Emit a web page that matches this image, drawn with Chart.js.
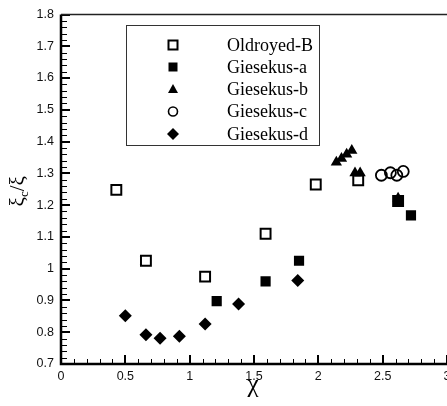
<!DOCTYPE html>
<html>
<head>
<meta charset="utf-8">
<script src="https://cdn.jsdelivr.net/npm/chart.js@4/dist/chart.umd.min.js"></script>
<style>
  html, body { margin: 0; padding: 0; background: #fff; overflow: hidden; }
  #wrap { width: 456px; height: 406px; }
</style>
</head>
<body>
<div id="wrap"><canvas id="chart"></canvas></div>
<script>
// axis ticks
const xTicks = [0, 0.5, 1, 1.5, 2, 2.5, 3];
const yTicks = [0.7, 0.8, 0.9, 1, 1.1, 1.2, 1.3, 1.4, 1.5, 1.6, 1.7, 1.8];

// series: chi vs xi_c / xi
const seriesNames = ['Oldroyed-B', 'Giesekus-a', 'Giesekus-b', 'Giesekus-c', 'Giesekus-d'];

const oldroydX = [0.43, 0.66, 1.12, 1.59, 1.98, 2.31, 2.62];
const oldroydY = [1.248, 1.025, 0.975, 1.11, 1.265, 1.278, 1.213];

const giesekusAX = [1.21, 1.59, 1.85, 2.62, 2.72];
const giesekusAY = [0.898, 0.96, 1.025, 1.213, 1.168];

const giesekusBX = [2.14, 2.18, 2.22, 2.26, 2.285, 2.325, 2.62];
const giesekusBY = [1.335, 1.347, 1.36, 1.372, 1.301, 1.301, 1.222];

const giesekusCX = [2.49, 2.56, 2.61, 2.66];
const giesekusCY = [1.294, 1.302, 1.294, 1.306];

const giesekusDX = [0.50, 0.66, 0.77, 0.92, 1.12, 1.38, 1.84];
const giesekusDY = [0.852, 0.792, 0.781, 0.787, 0.826, 0.889, 0.963];

function pairs(xs, ys) {
    return xs.map((v, i) => ({x: v, y: ys[i]}));
}

const fmt = v => String(+v.toFixed(2));

// legend marker, same shapes as the dataset point styles
function marker(ctx, style, x, y, filled) {
    ctx.beginPath();
    if (style === 'rect') {
        ctx.rect(x - 4.5, y - 4.5, 9, 9);
    } else if (style === 'triangle') {
        ctx.moveTo(x, y - 5.5);
        ctx.lineTo(x + 5, y + 3.5);
        ctx.lineTo(x - 5, y + 3.5);
        ctx.closePath();
    } else if (style === 'circle') {
        ctx.arc(x, y, 4.5, 0, Math.PI * 2);
    } else if (style === 'rectRot') {
        ctx.moveTo(x, y - 6);
        ctx.lineTo(x + 6, y);
        ctx.lineTo(x, y + 6);
        ctx.lineTo(x - 6, y);
        ctx.closePath();
    }
    if (filled) {
        ctx.fillStyle = '#000';
        ctx.fill();
    } else {
        ctx.lineWidth = style === 'circle' ? 1.6 : 2;
        ctx.strokeStyle = '#000';
        ctx.stroke();
    }
}

const framePlugin = {
    id: 'frame',
    beforeDatasetsDraw(chart) {
        const {ctx, chartArea: a, scales: {x, y}} = chart;
        ctx.save();
        ctx.strokeStyle = '#000';

        // inward ticks: minor every 0.1 on x, 0.02 on y
        for (let i = 0; i <= 30; i++) {
            const major = i % 5 === 0;
            const px = Math.round(x.getPixelForValue(i / 10));
            ctx.lineWidth = major ? 2 : 1;
            ctx.beginPath();
            ctx.moveTo(px + (major ? 0 : 0.5), a.bottom);
            ctx.lineTo(px + (major ? 0 : 0.5), a.bottom - (major ? 9 : 5));
            ctx.stroke();
        }
        for (let i = 0; i <= 55; i++) {
            const major = i % 5 === 0;
            const py = Math.round(y.getPixelForValue(0.7 + i * 0.02));
            ctx.lineWidth = major ? 2 : 1;
            ctx.beginPath();
            ctx.moveTo(a.left, py + (major ? 0 : 0.5));
            ctx.lineTo(a.left + (major ? 9 : 6), py + (major ? 0 : 0.5));
            ctx.stroke();
        }

        // axis lines
        ctx.lineWidth = 2.5;
        ctx.beginPath();
        ctx.moveTo(a.left, a.top);
        ctx.lineTo(a.left, a.bottom);
        ctx.lineTo(a.right + 10, a.bottom);
        ctx.stroke();
        ctx.lineWidth = 1.5;
        ctx.strokeStyle = '#222';
        ctx.beginPath();
        ctx.moveTo(a.left, a.top);
        ctx.lineTo(a.right + 10, a.top);
        ctx.stroke();

        // axis titles
        ctx.fillStyle = '#000';
        ctx.textAlign = 'center';
        ctx.textBaseline = 'middle';
        ctx.font = '25px "Liberation Serif", "Times New Roman", serif';
        ctx.fillText('\u03C7', (a.left + a.right) / 2 - 1, 385);

        ctx.translate(18, (a.top + a.bottom) / 2 + 2);
        ctx.rotate(-Math.PI / 2);
        ctx.textAlign = 'left';
        ctx.textBaseline = 'alphabetic';
        const big = '21px "Liberation Serif", "Times New Roman", serif';
        const small = '13px "Liberation Serif", "Times New Roman", serif';
        const parts = [['\u03BE', big, 0], ['c', small, 4], ['/', big, 0], ['\u03BE', big, 0]];
        let w = 0;
        parts.forEach(p => { ctx.font = p[1]; w += ctx.measureText(p[0]).width; });
        let cx = -w / 2;
        parts.forEach(p => {
            ctx.font = p[1];
            ctx.fillText(p[0], cx, 6 + p[2]);
            cx += ctx.measureText(p[0]).width;
        });
        ctx.restore();
    },
    afterDatasetsDraw(chart) {
        const ctx = chart.ctx;
        const styles = ['rect', 'rect', 'triangle', 'circle', 'rectRot'];
        const filled = [false, true, true, false, true];
        const rows = [45, 67, 89.5, 111.5, 134];
        ctx.save();
        ctx.fillStyle = '#fff';
        ctx.fillRect(126, 25, 193, 120);
        ctx.strokeStyle = '#333';
        ctx.lineWidth = 1;
        ctx.strokeRect(126.5, 25.5, 193, 120);
        ctx.font = '18px "Liberation Serif", "Times New Roman", serif';
        ctx.textBaseline = 'middle';
        seriesNames.forEach((name, i) => {
            marker(ctx, styles[i], 173, rows[i], filled[i]);
            ctx.fillStyle = '#000';
            ctx.fillText(name, 227, rows[i] + 1);
        });
        ctx.restore();
    }
};

const tickFont = {family: '"Liberation Sans", Arial, sans-serif', size: 12.5};

new Chart(document.getElementById('chart').getContext('2d'), {
    type: 'scatter',
    data: {
        datasets: [{
            label: seriesNames[0],
            data: pairs(oldroydX, oldroydY),
            pointStyle: 'rect',
            pointRadius: 7,
            backgroundColor: 'rgba(0,0,0,0)',
            borderColor: '#000',
            borderWidth: 2
        }, {
            label: seriesNames[1],
            data: pairs(giesekusAX, giesekusAY),
            pointStyle: 'rect',
            pointRadius: 7.2,
            backgroundColor: '#000',
            borderWidth: 0
        }, {
            label: seriesNames[2],
            data: pairs(giesekusBX, giesekusBY),
            pointStyle: 'triangle',
            pointRadius: 6.5,
            backgroundColor: '#000',
            borderWidth: 0
        }, {
            label: seriesNames[3],
            data: pairs(giesekusCX, giesekusCY),
            pointStyle: 'circle',
            pointRadius: 5.5,
            backgroundColor: 'rgba(0,0,0,0)',
            borderColor: '#000',
            borderWidth: 1.8
        }, {
            label: seriesNames[4],
            data: pairs(giesekusDX, giesekusDY),
            pointStyle: 'rectRot',
            pointRadius: 6.5,
            backgroundColor: '#000',
            borderWidth: 0
        }]
    },
    options: {
        responsive: true,
        maintainAspectRatio: false,
        devicePixelRatio: 1,
        animation: false,
        layout: {padding: {top: 11, right: 8, left: 0, bottom: 0}},
        plugins: {legend: {display: false}, tooltip: {enabled: false}},
        scales: {
            x: {
                type: 'linear',
                min: 0,
                max: 3,
                afterBuildTicks: s => { s.ticks = xTicks.map(v => ({value: v})); },
                afterFit: s => { s.height = 42; },
                grid: {display: false, drawTicks: false},
                border: {display: false},
                ticks: {font: tickFont, color: '#111', padding: 5, maxRotation: 0, callback: fmt}
            },
            y: {
                type: 'linear',
                min: 0.7,
                max: 1.8,
                afterBuildTicks: s => { s.ticks = yTicks.map(v => ({value: v})); },
                afterFit: s => { s.width = 61; },
                grid: {display: false, drawTicks: false},
                border: {display: false},
                ticks: {font: tickFont, color: '#111', padding: 7, callback: fmt}
            }
        }
    },
    plugins: [framePlugin]
});
</script>
</body>
</html>
